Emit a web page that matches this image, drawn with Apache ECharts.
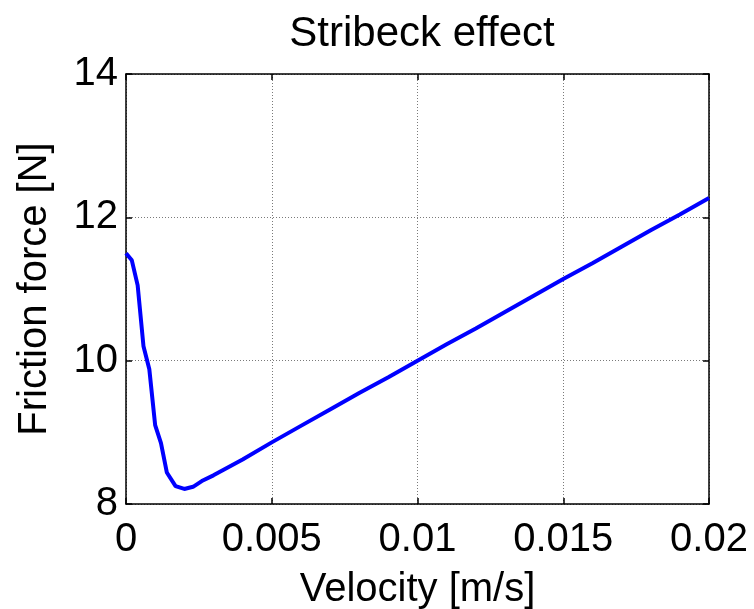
<!DOCTYPE html>
<html>
<head>
<meta charset="utf-8">
<title>Stribeck effect</title>
<script src="https://cdn.jsdelivr.net/npm/echarts@6/dist/echarts.min.js"></script>
<style>
  html, body { margin: 0; padding: 0; background: #fff; }
  #chart { width: 754px; height: 609px; }
</style>
</head>
<body>
<div id="chart"></div>
<script>
// Velocity [m/s] and friction force [N]
const velocity = [
  0, 0.0002, 0.0004, 0.0006, 0.0008, 0.001, 0.0012, 0.0014, 0.0017, 0.002,
  0.0023, 0.0026, 0.003, 0.004, 0.005, 0.006, 0.007, 0.008, 0.009, 0.01,
  0.011, 0.012, 0.013, 0.014, 0.015, 0.016, 0.017, 0.018, 0.019, 0.02
];
const force = [
  11.5, 11.4, 11.05, 10.2, 9.88, 9.1, 8.85, 8.44, 8.25, 8.21,
  8.24, 8.32, 8.4, 8.62, 8.86, 9.09, 9.32, 9.55, 9.77, 10.0,
  10.23, 10.45, 10.68, 10.91, 11.14, 11.36, 11.59, 11.82, 12.04, 12.27
];
const xTicks = ["0", "0.005", "0.01", "0.015", "0.02"];
const yTicks = ["8", "10", "12", "14"];

const font = "'Liberation Sans', Arial, sans-serif";
const chart = echarts.init(document.getElementById("chart"));

const xMin = +xTicks[0], xMax = +xTicks[xTicks.length - 1];
const yMin = +yTicks[0], yMax = +yTicks[yTicks.length - 1];
const xStep = +xTicks[1] - +xTicks[0];
const yStep = +yTicks[1] - +yTicks[0];

const fmtX = (v) => {
  const i = Math.round((v - xMin) / xStep);
  return xTicks[i] !== undefined ? xTicks[i] : "";
};

// black box with inward ticks on all four sides (MATLAB look)
const boxAxis = {
  axisLine: { show: true, onZero: false, lineStyle: { color: "#000", width: 1.5 } },
  axisTick: { show: true, inside: true, length: 6, lineStyle: { color: "#000", width: 1.5 } },
};
const gridLine = { show: true, lineStyle: { color: "#7a7a7a", type: [1, 2], width: 1 } };

chart.setOption({
  animation: false,
  backgroundColor: "#fff",
  title: {
    text: "Stribeck effect",
    left: 417,
    textAlign: "center",
    top: 8,
    textStyle: { fontFamily: font, fontSize: 42, fontWeight: "normal", color: "#000" },
  },
  grid: { left: 126, right: 45, top: 74, bottom: 105, outerBoundsMode: "none" },
  xAxis: [
    {
      type: "value",
      min: xMin,
      max: xMax,
      interval: xStep,
      position: "bottom",
      name: "Velocity [m/s]",
      nameLocation: "middle",
      nameGap: 66,
      nameTextStyle: { fontFamily: font, fontSize: 40, color: "#000" },
      ...boxAxis,
      axisLabel: { fontFamily: font, fontSize: 40, color: "#000", margin: 16, formatter: fmtX },
      splitLine: gridLine,
    },
    {
      type: "value",
      min: xMin,
      max: xMax,
      interval: xStep,
      position: "top",
      ...boxAxis,
      axisLabel: { show: false },
      splitLine: { show: false },
    },
  ],
  yAxis: [
    {
      type: "value",
      min: yMin,
      max: yMax,
      interval: yStep,
      position: "left",
      name: "Friction force [N]",
      nameLocation: "middle",
      nameGap: 71,
      nameTextStyle: { fontFamily: font, fontSize: 40, color: "#000" },
      ...boxAxis,
      axisLabel: { fontFamily: font, fontSize: 40, color: "#000", margin: 8 },
      splitLine: gridLine,
    },
    {
      type: "value",
      min: yMin,
      max: yMax,
      interval: yStep,
      position: "right",
      ...boxAxis,
      axisLabel: { show: false },
      splitLine: { show: false },
    },
  ],
  series: [
    {
      name: "Friction force",
      type: "line",
      data: velocity.map((v, i) => [v, force[i]]),
      showSymbol: false,
      smooth: false,
      lineStyle: { color: "#0000ff", width: 4 },
      itemStyle: { color: "#0000ff" },
    },
  ],
});
</script>
</body>
</html>
